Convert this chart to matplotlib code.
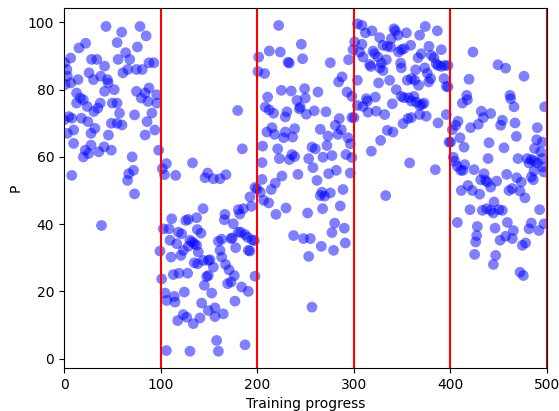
import numpy as np
import matplotlib.pyplot as plt

# points, one list per training phase: (progress, P)
seg1 = [(43.5, 98.8), (59.7, 97.1), (78.7, 98.8), (85, 96), (22.4, 93.8), (15.5, 92.4), (55, 94),
        (76, 92.7), (6.9, 89.4), (28.5, 89), (34, 89), (63.8, 91), (68, 89), (56, 89), (42, 87),
        (0.8, 88), (88, 88), (93, 88), (3, 86), (26, 85), (38, 84), (45, 83), (61, 85), (66, 86),
        (75, 86), (81, 86), (30.5, 83), (14.5, 83), (3.5, 84), (1, 81.5), (7, 82), (45.7, 82),
        (52, 80), (42, 79.5), (75, 79.5), (84, 79), (88, 80.5), (96, 78.5), (13, 79), (17, 77.5),
        (20, 77), (80, 77.5), (87, 76.5), (96, 76), (13, 76), (24, 75), (37.5, 76), (50, 76),
        (55, 76), (35, 74.5), (31, 73.5), (57.5, 73), (73, 72.5), (91, 73), (5, 72), (0, 71),
        (8, 71.5), (18, 71.5), (24.7, 70.5), (49, 70), (55, 70), (60, 69.5), (86, 70.5), (3.5, 67),
        (10, 68), (32, 68.5), (28, 67), (46, 66.5), (84, 66.5), (94, 68), (10, 64), (28, 63.5),
        (41.5, 63), (49, 62), (22, 62), (25.5, 61), (20, 60), (36, 61.5), (98, 62), (70.5, 60),
        (72, 56), (67, 55), (65.8, 53), (8, 54.5), (73, 49), (38.8, 39.6)]

seg2 = [(101.8, 56.5), (106, 58), (104, 54.7), (115.6, 54.5), (133, 58.2), (148.7, 55.2), (146, 53.8),
        (154.6, 53.5), (161.5, 53.5), (167.7, 54.7), (179.8, 73.8), (184.6, 62.4), (197.7, 50.9),
        (192.5, 48.1), (194, 45.3), (185.6, 44.6), (180.5, 44.3), (182, 43), (144, 44.6),
        (166.6, 42.9), (166, 41.3), (111.5, 41.6), (126, 41.1), (128.7, 41.4), (137.3, 41.9),
        (175.3, 40.1), (102.8, 38.6), (108.7, 38.6), (118.4, 37.6), (121.8, 37.1), (138, 38.4),
        (141.8, 37.3), (159.8, 34.9), (163.2, 35.5), (172.9, 35.7), (174.2, 35.9), (180.5, 37.6),
        (183, 37.6), (187.4, 36.9), (190, 36.1), (195, 35.3), (197, 35.1), (99.4, 32), (109.7, 35.2),
        (116.6, 34.2), (130.4, 35.2), (132.8, 34.7), (134.9, 34.2), (128.7, 33.4), (137.3, 33.7),
        (139, 31.7), (123.5, 32.2), (121, 30.7), (110.8, 30.2), (161.5, 32.2), (163.2, 30.2),
        (177.7, 33), (190.8, 32.2), (192.5, 32), (134.9, 28.5), (138.4, 28.2), (144.2, 29.2),
        (149.4, 29.2), (151.1, 29.4), (154.6, 27.2), (170.8, 26.4), (167.3, 28), (147.7, 24.4),
        (149.4, 24.7), (113.2, 25), (119, 25.4), (128, 25.4), (101.1, 23.7), (145.3, 21.8),
        (169.4, 22.3), (172.9, 22.8), (176.3, 24.7), (197.7, 24.5), (183.9, 21.3), (190.8, 20),
        (104.6, 19.5), (124.6, 19.8), (152.9, 19.5), (106.3, 17.3), (114.2, 18.5), (114.9, 16.8),
        (177, 17.1), (142.5, 16.5), (149.4, 14.3), (156.3, 15.1), (156.3, 12.5), (164.9, 13.3),
        (123.5, 13.1), (127, 12.3), (117.7, 11.3), (133.9, 10.4), (140.8, 12.1), (158, 5.4),
        (187.4, 4.1), (106, 2.4), (130.4, 2.2), (159.8, 2.2)]

seg3 = [(222.2, 99.1), (245.7, 93.5), (212.5, 91.5), (223.9, 91.2), (201.5, 89.7), (247, 89.2),
        (231.9, 88.2), (233.2, 87.9), (275.7, 88), (294.6, 88.9), (200.8, 85.4), (207.7, 84.8),
        (287.8, 83.8), (284.3, 82.3), (225, 79.8), (235.3, 79.6), (249.1, 80.3), (262.9, 79.3),
        (293, 79.3), (298, 78), (210.8, 77.8), (241.2, 76.8), (249.8, 77.5), (244.6, 74.8),
        (243.6, 74.3), (208.4, 74.8), (212.5, 74), (217, 73), (230.8, 73.4), (229.1, 71.9),
        (250.8, 72.7), (259.1, 73.7), (271.2, 73.4), (285, 71.4), (298, 71.7), (280.9, 69.4),
        (287.1, 68.1), (215.3, 68.7), (210.1, 67.4), (218, 66.7), (229.1, 67.4), (238.8, 68.4),
        (227.4, 65.7), (236.7, 65.9), (265.3, 68.2), (273.3, 66.2), (283.6, 66.7), (294, 65.7),
        (296.4, 63.9), (205.6, 63.2), (221.2, 62.4), (256.7, 62.9), (260.2, 62.4), (272.2, 63.4),
        (236, 60.7), (238.8, 60.1), (233.2, 59.2), (222.9, 59.5), (253.3, 59.5), (268.1, 59.9),
        (277.4, 60.4), (291.9, 60.7), (298, 59.8), (205, 58.3), (257.7, 56.8), (281.9, 56),
        (274, 55), (242.2, 54.8), (225.6, 54.3), (296.4, 55.2), (261.9, 53), (205, 53.3),
        (218.7, 52.2), (214.6, 50.3), (199.8, 50.5), (203.2, 49.5), (288.8, 50.3), (267, 49.5),
        (265.3, 48.5), (269.8, 48.3), (275.7, 49.3), (206.7, 47.1), (211.9, 46.3), (229.8, 44.8),
        (267.7, 44.6), (286, 45.4), (219.4, 42.9), (252.2, 43.3), (280.2, 40.3), (290.2, 38.8),
        (277.4, 37.5), (237.7, 36.6), (248, 35.7), (255, 35.7), (266.4, 33.4), (279.1, 32.2),
        (291.2, 34.4), (253.3, 30.4), (256.7, 15.3)]

seg4 = [(303.7, 99.6), (308.5, 99.1), (312, 96.9), (318.8, 97.5), (341.6, 98.1), (343, 97.5),
        (354.4, 96.9), (374, 98.8), (368.2, 96.2), (386.5, 97.5), (300.9, 94.2), (299.2, 91.9),
        (326.8, 95.5), (338.9, 95.2), (345.8, 96.2), (338.2, 92.7), (334.7, 92.9), (308.5, 93.5),
        (330.2, 93.2), (358.9, 93.2), (377.8, 92.9), (390.6, 91.9), (306, 91.2), (309.5, 89.7),
        (319.9, 91.5), (321.6, 90.7), (349.2, 91.9), (352, 92.2), (346.4, 91.2), (369.9, 90.7),
        (366.5, 89.5), (380.3, 90.2), (383, 89.5), (325, 89.7), (333.7, 88.9), (316.4, 87.5),
        (317.5, 86.9), (328.5, 87.9), (330.2, 85.7), (326.8, 86.5), (348.5, 87.9), (349.2, 86.5),
        (364, 85.9), (373.4, 86.5), (376.1, 84.9), (385.4, 87.7), (387.2, 87.2), (390.6, 86.9),
        (394, 87.2), (397.5, 87.2), (379.6, 83.3), (377.5, 82.3), (393.4, 83.3), (395.8, 81),
        (397.5, 80.8), (303.7, 82.8), (325.7, 82), (337.1, 82.8), (355.4, 82.8), (359.6, 83.3),
        (363, 82.8), (367.1, 81.3), (344, 80), (349.2, 78), (352, 77.6), (356.8, 77.6), (362.3, 78),
        (359.6, 76.6), (364.7, 76.3), (368.2, 75.3), (370.6, 75.6), (372.7, 76), (322.3, 77.8),
        (313, 77.3), (314, 76.6), (339.9, 75.8), (303.7, 75.3), (309.5, 75), (314.7, 73.3),
        (323.3, 73.6), (332, 72.6), (359.6, 71.7), (356.1, 71.4), (368.2, 72.6), (375, 72.1),
        (395.8, 72.6), (300.2, 71.7), (351, 69.9), (387.2, 70.1), (334.7, 67.9), (340.6, 67.4),
        (327.8, 64.9), (318.2, 61.7), (357.8, 58.2), (384.4, 56.2), (333, 48.5)]

seg5 = [(423.4, 91.2), (449.3, 87.4), (457.2, 86.4), (476.2, 84), (419.3, 83.1), (416.9, 78.3),
        (412.4, 76), (417.6, 77), (461.7, 78.3), (462.4, 77.3), (465.9, 74.9), (497.6, 74.9),
        (432, 73.6), (434.1, 71.7), (441.7, 72.9), (453.8, 70.9), (452, 69.4), (466.9, 70.1),
        (407.9, 70.6), (405.5, 69.4), (402, 68.1), (421, 68.7), (428.9, 69.7), (490, 68.7),
        (468.3, 66.1), (410, 65.7), (400.3, 64.4), (398.6, 64.4), (489.3, 65.1), (495.2, 64.4),
        (440, 64.2), (414.1, 62.9), (455.5, 62.7), (487.2, 62.5), (493.5, 61.5), (403, 59.9),
        (404.4, 58.7), (407.2, 57.2), (410.7, 56), (414.8, 57.7), (413, 56), (439, 59.5), (470, 59.5),
        (479.6, 59.5), (481.4, 58.2), (483.8, 59.2), (486.5, 58.8), (490, 58.2), (495.2, 59.5),
        (495.2, 57), (496.9, 55.5), (424.5, 56.2), (486.5, 55.8), (483.8, 54), (485.9, 53.2),
        (458.3, 54.8), (434.8, 55), (431.4, 53.2), (436.5, 53), (438.3, 52.5), (468.6, 53.8),
        (473.4, 52.5), (447.9, 52.8), (441.7, 51), (418.2, 51.5), (422.7, 50), (411.3, 50),
        (460.7, 50), (464.1, 50.6), (472.1, 49.8), (430.3, 48.9), (477.2, 47.8), (445.2, 46.6),
        (420.3, 44.3), (433.1, 44.1), (437.6, 44.6), (441.7, 44.1), (444.5, 43.3), (450.3, 44.3),
        (453.8, 44.1), (492.4, 44.3), (407.2, 40.5), (459, 40.5), (427.9, 39.3), (483.8, 40.3),
        (481.4, 38.6), (496.9, 40.1), (491.7, 38.1), (446.2, 38.8), (465.2, 38.1), (427.2, 36.6),
        (426.2, 34.7), (457.2, 36.4), (451.4, 35.2), (464.1, 35.7), (477.9, 34.4), (474.5, 33.7),
        (425.1, 31), (446.9, 30.7), (444.5, 28), (472.1, 25.7), (475.5, 24.7)]

boundaries = [100, 200, 300, 400, 500]

pts = np.array(seg1 + seg2 + seg3 + seg4 + seg5)

fig = plt.figure(figsize=(5.59, 4.11), dpi=100)
ax = fig.add_axes([0.1145, 0.1046, 0.864, 0.876])

ax.scatter(pts[:, 0], pts[:, 1], s=60, c='b', alpha=0.5, edgecolors='none')
for b in boundaries:
    ax.axvline(b, color='r', lw=1.5)

ax.set_xlim(0, 500)
ax.set_ylim(-2.8, 104.3)
ax.set_xlabel('Training progress')
ax.set_ylabel('P')

fig.savefig('out.png', dpi=100)
